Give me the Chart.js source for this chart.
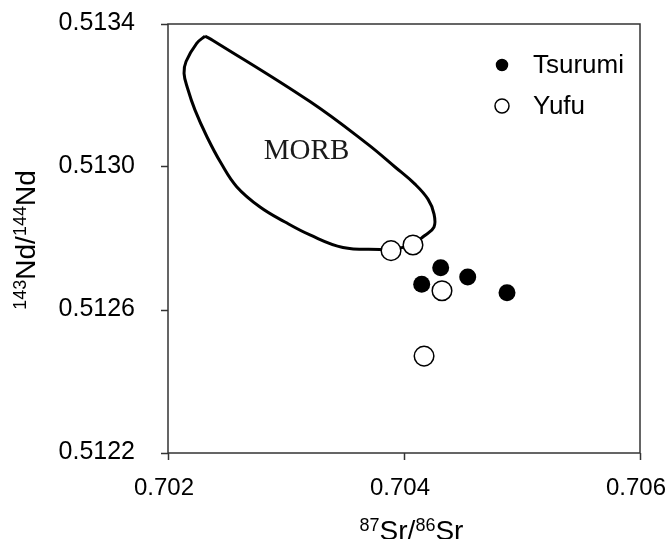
<!DOCTYPE html>
<html>
<head>
<meta charset="utf-8">
<script src="https://cdn.jsdelivr.net/npm/chart.js@4.4.1/dist/chart.umd.min.js"></script>
<style>
  html, body { margin: 0; padding: 0; background: #fff; }
  #wrap { width: 670px; height: 539px; }
</style>
</head>
<body>
<div id="wrap"><canvas id="c" width="670" height="539"></canvas></div>
<script>
// Sr-Nd isotope ratios of the two volcanoes
const seriesNames = ['Tsurumi', 'Yufu'];
const tsurumiSr = [0.704311, 0.704150, 0.704540, 0.704873];
const tsurumiNd = [0.512718, 0.512672, 0.512692, 0.512648];
const yufuSr = [0.703890, 0.704076, 0.704322, 0.704170];
const yufuNd = [0.512766, 0.512782, 0.512654, 0.512471];

// Outline of the MORB field (closed loop, clockwise from the top)
const morbSr = [0.702314, 0.702381, 0.703203, 0.703684, 0.703924, 0.704093, 0.704203,
  0.704254, 0.704254, 0.704170, 0.704076, 0.703890, 0.703797, 0.703483, 0.703203,
  0.702992, 0.702780, 0.702582, 0.702449, 0.702331, 0.702229, 0.702165, 0.702136,
  0.702153, 0.702243, 0.702314];
const morbNd = [0.513366, 0.513354, 0.513183, 0.513066, 0.513000, 0.512952, 0.512910,
  0.512869, 0.512832, 0.512807, 0.512785, 0.512768, 0.512769, 0.512775, 0.512810,
  0.512846, 0.512888, 0.512945, 0.513011, 0.513084, 0.513159, 0.513221, 0.513262,
  0.513295, 0.513346, 0.513366];
const morbLabel = 'MORB';
const morbLabelAt = [0.703174, 0.513043];

const xTicks = [0.702, 0.704, 0.706];
const yTicks = [0.5122, 0.5126, 0.5130, 0.5134];

const pairs = (xs, ys) => xs.map((x, i) => ({ x, y: ys[i] }));

const SANS = '"Liberation Sans", Arial, sans-serif';
const SERIF = '"Liberation Serif", "Times New Roman", serif';

// Draws a run of text pieces where some are superscripts, centred on x
function drawRich(ctx, parts, cx, baseY) {
  let total = 0;
  for (const p of parts) {
    ctx.font = (p.sup ? '18px ' : '28px ') + SANS;
    p.w = ctx.measureText(p.t).width;
    total += p.w;
  }
  let x = cx - total / 2;
  ctx.textAlign = 'left';
  ctx.textBaseline = 'alphabetic';
  for (const p of parts) {
    ctx.font = (p.sup ? '18px ' : '28px ') + SANS;
    ctx.fillText(p.t, x, p.sup ? baseY - 9.5 : baseY);
    x += p.w;
  }
}

// Keep the plot box fixed regardless of how far tick labels overhang
function fixBox(s, key, size) {
  s[key] = size;
  s.paddingTop = 0; s.paddingBottom = 0; s.paddingLeft = 0; s.paddingRight = 0;
}

const decorations = {
  id: 'decorations',
  beforeDatasetsDraw(chart) {
    const { ctx, chartArea: a } = chart;
    ctx.save();
    ctx.strokeStyle = '#333';
    ctx.lineWidth = 1.5;
    ctx.strokeRect(a.left, a.top, a.right - a.left, a.bottom - a.top);
    // field label
    const sx = chart.scales.x, sy = chart.scales.y;
    ctx.fillStyle = '#1a1a1a';
    ctx.font = '29px ' + SERIF;
    ctx.textAlign = 'center';
    ctx.textBaseline = 'middle';
    ctx.fillText(morbLabel, sx.getPixelForValue(morbLabelAt[0]), sy.getPixelForValue(morbLabelAt[1]));
    ctx.restore();
  },
  afterDraw(chart) {
    const { ctx, chartArea: a } = chart;
    ctx.save();
    ctx.fillStyle = '#000';
    // axis titles
    drawRich(ctx, [{ t: '87', sup: true }, { t: 'Sr/' }, { t: '86', sup: true }, { t: 'Sr' }],
      (a.left + a.right) / 2 + 7.5, 540);
    ctx.save();
    ctx.translate(35, (a.top + a.bottom) / 2 + 1.5);
    ctx.rotate(-Math.PI / 2);
    drawRich(ctx, [{ t: '143', sup: true }, { t: 'Nd/' }, { t: '144', sup: true }, { t: 'Nd' }], 0, 0);
    ctx.restore();
    // legend
    const rows = [
      { ds: chart.data.datasets[0], r: 5.5, y: a.top + 41 },
      { ds: chart.data.datasets[1], r: 7, y: a.top + 82 }
    ];
    const mx = a.right - 138;
    for (const row of rows) {
      ctx.beginPath();
      ctx.arc(mx, row.y, row.r, 0, Math.PI * 2);
      ctx.fillStyle = row.ds.pointBackgroundColor;
      ctx.fill();
      ctx.lineWidth = 1.5;
      ctx.strokeStyle = row.ds.pointBorderColor;
      ctx.stroke();
      ctx.fillStyle = '#000';
      ctx.font = '26px ' + SANS;
      ctx.textAlign = 'left';
      ctx.textBaseline = 'middle';
      ctx.fillText(row.ds.label, mx + 31, row.y + 1);
    }
    ctx.restore();
  }
};

new Chart(document.getElementById('c'), {
  type: 'scatter',
  data: {
    datasets: [
      {
        label: seriesNames[0],
        data: pairs(tsurumiSr, tsurumiNd),
        pointRadius: 8.5,
        pointBackgroundColor: '#000',
        pointBorderColor: '#000',
        pointBorderWidth: 0,
        order: 1
      },
      {
        label: seriesNames[1],
        data: pairs(yufuSr, yufuNd),
        pointRadius: 9.8,
        pointBackgroundColor: '#fff',
        pointBorderColor: '#000',
        pointBorderWidth: 1.5,
        order: 0
      },
      {
        label: morbLabel,
        data: pairs(morbSr, morbNd),
        showLine: true,
        tension: 0.4,
        pointRadius: 0,
        borderColor: '#000',
        borderWidth: 3,
        borderJoinStyle: 'round',
        fill: false,
        order: 2
      }
    ]
  },
  options: {
    responsive: false,
    animation: false,
    events: [],
    layout: { padding: { top: 24, right: 30, left: 0, bottom: 0 } },
    plugins: { legend: { display: false }, tooltip: { enabled: false } },
    scales: {
      x: {
        type: 'linear',
        min: xTicks[0],
        max: xTicks[xTicks.length - 1],
        afterBuildTicks: s => { s.ticks = xTicks.map(v => ({ value: v })); },
        afterFit: s => fixBox(s, 'height', 86),
        border: { display: false },
        grid: { drawOnChartArea: false, drawTicks: true, tickLength: 7, tickWidth: 1.5, tickColor: '#333' },
        ticks: {
          callback: v => v.toFixed(3),
          color: '#000',
          font: { family: SANS, size: 24 },
          padding: 14,
          labelOffset: -4,
          maxRotation: 0
        }
      },
      y: {
        type: 'linear',
        min: yTicks[0],
        max: yTicks[yTicks.length - 1],
        afterBuildTicks: s => { s.ticks = yTicks.map(v => ({ value: v })); },
        afterFit: s => fixBox(s, 'width', 168),
        border: { display: false },
        grid: { drawOnChartArea: false, drawTicks: true, tickLength: 7, tickWidth: 1.5, tickColor: '#333' },
        ticks: {
          callback: v => v.toFixed(4),
          color: '#000',
          font: { family: SANS, size: 25 },
          padding: 26,
          labelOffset: -1
        }
      }
    }
  },
  plugins: [decorations]
});
</script>
</body>
</html>
